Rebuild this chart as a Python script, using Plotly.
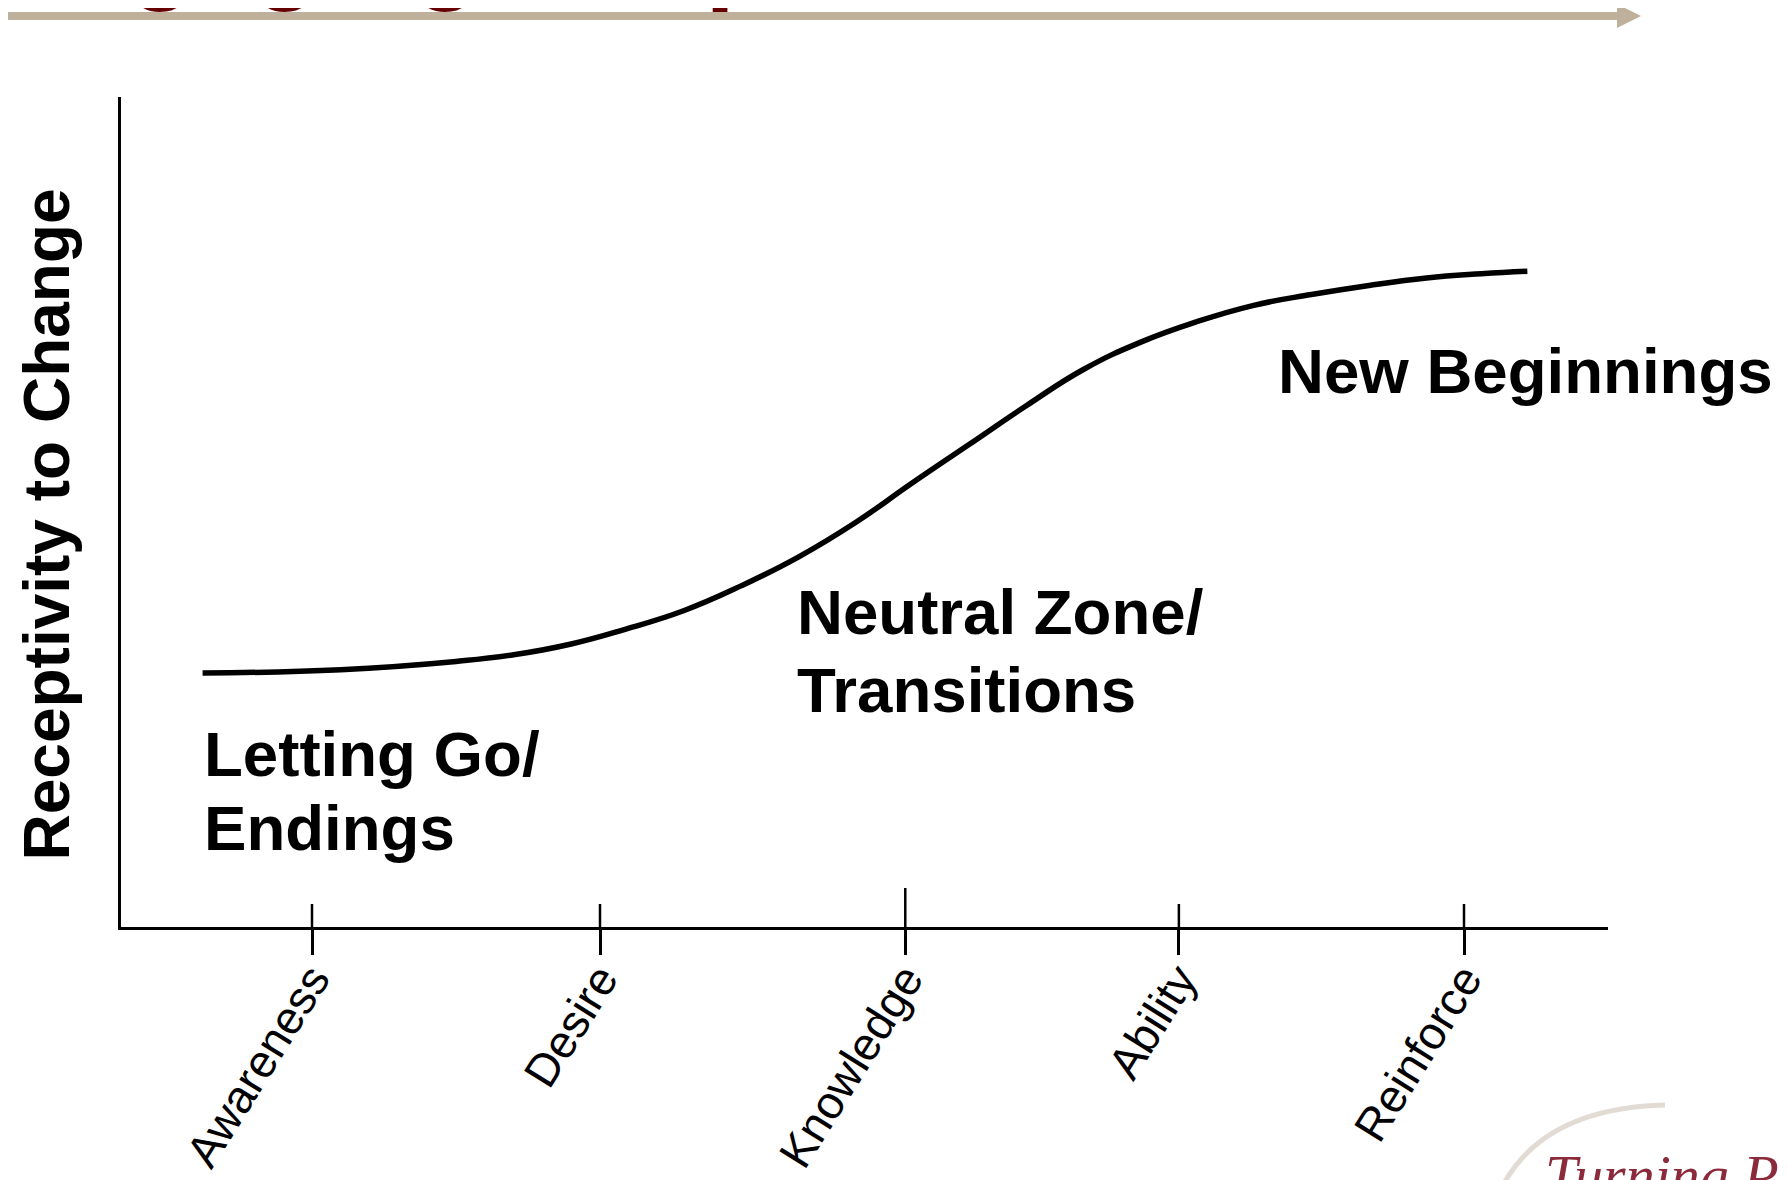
import plotly.graph_objects as go

# ---------------- data ----------------
stages = ["Awareness", "Desire", "Knowledge", "Ability", "Reinforce"]
stage_pos = [1.0, 2.0, 3.06, 4.01, 5.0]

curve_x = [0.62, 1.10, 1.50, 1.70, 1.90, 2.09, 2.29, 2.49, 2.69, 2.89, 3.08,
           3.28, 3.48, 3.68, 3.88, 4.07, 4.27, 4.47, 4.67, 4.87, 5.06, 5.22]
receptivity = [3.06, 3.10, 3.20, 3.28, 3.41, 3.59, 3.81, 4.11, 4.46, 4.88, 5.34,
               5.81, 6.28, 6.72, 7.05, 7.29, 7.49, 7.62, 7.73, 7.82, 7.87, 7.90]

phase_labels = ["Letting Go/", "Endings", "Neutral Zone/", "Transitions", "New Beginnings"]
y_title = "Receptivity to Change"
slide_title = "Engaging People"
logo_text = "Turning Point"

# ---------------- layout geometry (page pixels) ----------------
OFF = 8                      # default body margin of the html page
W, H = 1788 - OFF, 1180 - OFF
L, R, T, B = 121, 1608, 97, 927
PW, PH = R - L, B - T


def px(x):
    return (x - L) / PW


def py(y):
    return (B - y) / PH


def P(x, y):
    return f"{px(x):.5f},{py(y):.5f}"


FONT = "Liberation Sans, Arial, sans-serif"

fig = go.Figure()
fig.add_trace(go.Scatter(
    x=curve_x, y=receptivity, mode="lines",
    line=dict(color="black", width=5.5, shape="spline", smoothing=1.3),
    hoverinfo="skip", showlegend=False))

# upper halves of the stage ticks (they cross the axis)
tick_up_px = [23, 23, 39, 23, 23]
shapes = []
for pos, up in zip(stage_pos, tick_up_px):
    shapes.append(dict(type="line", xref="x", yref="paper", x0=pos, x1=pos,
                       y0=0, y1=up / PH, line=dict(color="black", width=2.5)))

# decorative arrow at the top of the slide
arrow_col = "#BEB09B"
shapes.append(dict(type="path", xref="paper", yref="paper",
                   path=f"M {P(0,12)} L {P(1619,12)} L {P(1619,20)} L {P(0,20)} Z",
                   fillcolor=arrow_col, line=dict(width=0)))
shapes.append(dict(type="path", xref="paper", yref="paper",
                   path=f"M {P(1617,4)} L {P(1641,16)} L {P(1617,28)} Z",
                   fillcolor=arrow_col, line=dict(width=0)))
# logo arc
shapes.append(dict(type="path", xref="paper", yref="paper",
                   path=f"M {P(1503,1185)} Q {P(1545,1108)} {P(1665,1105)}",
                   line=dict(color="#E2DBD3", width=5)))

ann = []
lab_font = dict(family=FONT, size=63.6, color="black")
label_pos = [(201.5, 716), (201.5, 790), (794.5, 574), (794.5, 652), (1276, 333)]
for txt, (ax_, ay_) in zip(phase_labels, label_pos):
    ann.append(dict(text=f"<b>{txt}</b>", xref="paper", yref="paper",
                    x=px(ax_), y=py(ay_), xanchor="left", yanchor="top",
                    showarrow=False, font=lab_font))

ann.append(dict(text=f"<b>{y_title}</b>", xref="paper", yref="paper",
                x=px(46), y=py(524.5), xanchor="center", yanchor="middle",
                textangle=-90, showarrow=False,
                font=dict(family=FONT, size=64, color="black")))

ann.append(dict(text=f"<b>{slide_title}</b>", xref="paper", yref="paper",
                x=px(-10), y=py(14.5), xanchor="left", yanchor="bottom",
                showarrow=False,
                font=dict(family=FONT, size=107, color="#660000")))

ann.append(dict(text=f"<i>{logo_text}</i>", xref="paper", yref="paper",
                x=px(1543), y=py(1210), xanchor="left", yanchor="bottom",
                showarrow=False,
                font=dict(family="Liberation Serif, Times New Roman, serif",
                          size=58, color="#8B2A3A")))

fig.update_layout(
    width=W, height=H,
    margin=dict(l=L - OFF, r=(W + OFF) - R, t=T - OFF, b=(H + OFF) - B, pad=0,
                autoexpand=False),
    paper_bgcolor="white", plot_bgcolor="white",
    showlegend=False,
    shapes=shapes, annotations=ann,
    xaxis=dict(range=[1 - (312 - L) / 288, 1 + (R - 312) / 288],
               tickvals=stage_pos, ticktext=stages, tickangle=-58,
               ticks="outside", ticklen=25, tickwidth=2.5, tickcolor="black",
               ticklabelstandoff=-21,
               showline=True, linecolor="black", linewidth=2.5,
               showgrid=False, zeroline=False, automargin=False,
               tickfont=dict(family=FONT, size=46, color="black"),
               fixedrange=True),
    yaxis=dict(range=[0, 10], showticklabels=False, ticks="",
               showline=True, linecolor="black", linewidth=2.5,
               showgrid=False, zeroline=False, automargin=False,
               fixedrange=True),
)

fig.write_html("out.html")
